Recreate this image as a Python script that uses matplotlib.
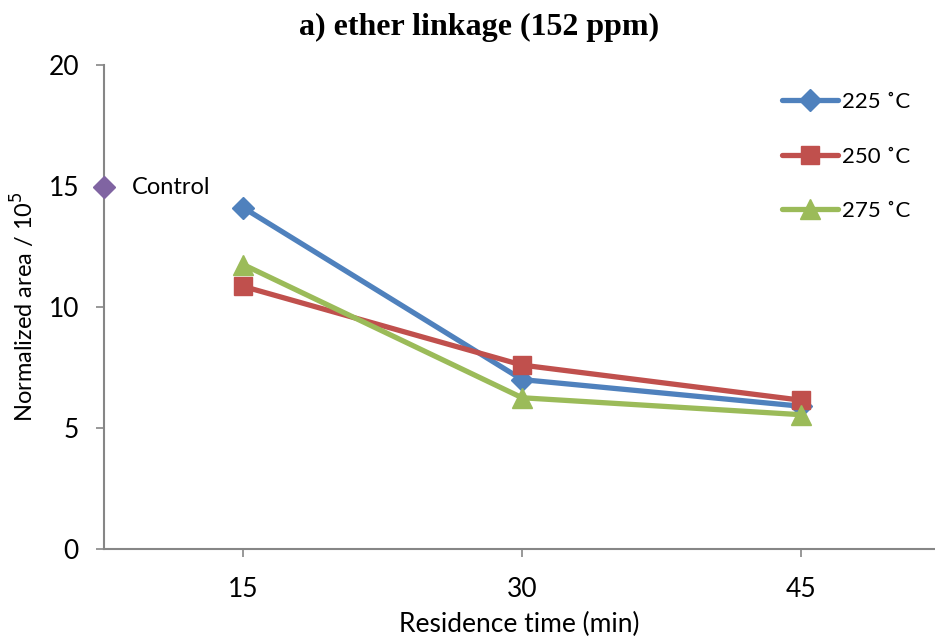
import numpy as np
import matplotlib.pyplot as plt

# data
times = [15, 30, 45]
s225 = [14.1, 7.0, 5.9]
s250 = [10.85, 7.6, 6.15]
s275 = [11.75, 6.25, 5.55]
control_x = 7.5
control_y = 14.95

series = [
    ('225 ˚C', s225, '#4F81BD', 'D', 11),
    ('250 ˚C', s250, '#C0504D', 's', 13),
    ('275 ˚C', s275, '#9BBB59', '^', 15),
]

plt.rcParams['font.family'] = ['Lato', 'DejaVu Sans']

fig = plt.figure(figsize=(9.35, 6.41), dpi=100)
ax = fig.add_axes([104 / 935, 92 / 641, 1 - 104 / 935, 484 / 641])

for label, vals, color, marker, ms in series:
    ax.plot(times, vals, color=color, lw=3.8, marker=marker, markersize=ms,
            label=label, solid_capstyle='round')

ax.plot([control_x], [control_y], marker='D', color='#8064A2', markersize=11,
        linestyle='none', clip_on=False, zorder=5)
ax.text(9.0, control_y, 'Control', fontsize=17, va='center', ha='left')

ax.set_xlim(7.5, 52.22)
ax.set_ylim(0, 20)
ax.set_xticks(times)
ax.set_yticks([0, 5, 10, 15, 20])
ax.tick_params(axis='both', labelsize=19, direction='out', color='#868686',
               length=6, width=1.2)
ax.tick_params(axis='x', pad=14)
ax.tick_params(axis='y', pad=12)

for side in ['top', 'right']:
    ax.spines[side].set_visible(False)
for side in ['left', 'bottom']:
    ax.spines[side].set_color('#868686')
    ax.spines[side].set_linewidth(1.5)

ax.set_xlabel('Residence time (min)', fontsize=19, labelpad=7)
ax.set_ylabel('Normalized area / 10$^5$', fontsize=17, labelpad=8)

fig.suptitle('a) ether linkage (152 ppm)', family='Liberation Serif',
             fontweight='bold', fontsize=23, x=0.512, y=0.98)

ax.legend(loc='upper right', bbox_to_anchor=(0.995, 0.985), frameon=False,
          fontsize=16, handlelength=2.5, labelspacing=1.55, handletextpad=0.2,
          markerfirst=True)

fig.savefig('out.png', dpi=100)
